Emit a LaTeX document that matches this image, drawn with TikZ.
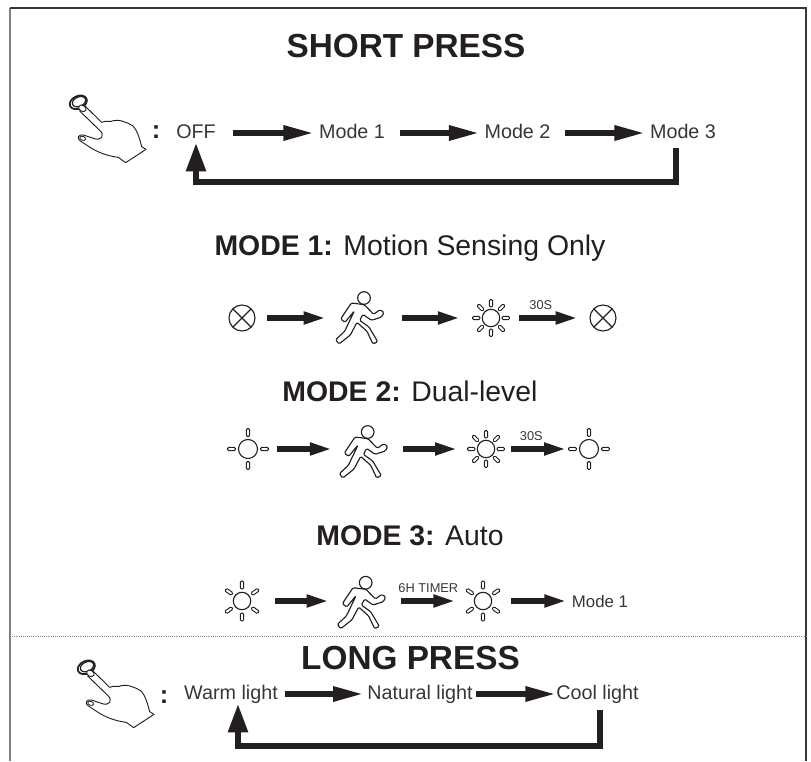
\documentclass[tikz,border=0pt]{standalone}
\usepackage{fontspec}
\setmainfont{Liberation Sans}
\usetikzlibrary{arrows.meta}
\definecolor{ink}{HTML}{231F20}
\tikzset{
	titletext/.style={font=\fontsize{25}{25}\selectfont\bfseries, text=ink},
	headtext/.style={font=\fontsize{21.3}{22}\selectfont, text=ink},
	rowtext/.style={font=\fontsize{14.8}{15}\selectfont, text=ink!90, text height=11pt, text depth=3pt, inner ysep=0pt, inner xsep=3.5pt},
	longtext/.style={rowtext, inner xsep=2.5pt},
	smalltext/.style={font=\fontsize{12.6}{13}\selectfont, text=ink!90, inner xsep=4pt},
	steptext/.style={font=\fontsize{9.6}{10}\selectfont, text=ink!90, inner sep=0pt},
	coltext/.style={font=\fontsize{19}{19}\selectfont\bfseries, text=ink, inner sep=0pt},
	iconbox/.style={inner sep=0pt, minimum height=10pt},
	bigarrow/.style={draw=ink, line width=4.4pt, -{Triangle[length=23pt,width=10.5pt]}},
	fatarrow/.style={draw=ink, line width=3.9pt, -{Triangle[length=16.5pt,width=8.8pt]}},
	looparrow/.style={draw=ink, line width=4.7pt, -{Triangle[length=21.5pt,width=14pt]}},
	lampoff/.pic={
		\draw[ink, line width=.85pt] (0,0) circle (13);
		\draw[ink, line width=.85pt] (-9.2,-9.2)--(9.2,9.2) (-9.2,9.2)--(9.2,-9.2);
	},
	lampdim/.pic={
		\draw[ink, line width=.85pt] (0,0) circle (9.5);
		\foreach \a in {0, 90, 180, 270}{
			\draw[ink, line width=.7pt, rotate=\a, rounded corners=.9pt] (12.5,-1.6) rectangle (20.5,1.6);
		}
	},
	lampfull/.pic={
		\draw[ink, line width=.85pt] (0,0) circle (8.7);
		\foreach \a in {0, 45, ..., 315}{
			\draw[ink, line width=.7pt, rotate=\a, rounded corners=.9pt] (11,-1.6) rectangle (18.5,1.6);
		}
	},
	lampauto/.pic={
		\draw[ink, line width=.85pt] (0,0) circle (8.7);
		\foreach \a in {35, 90, 145, 215, 270, 325}{
			\draw[ink, line width=.7pt, rotate=\a, rounded corners=.9pt] (12,-1.6) rectangle (20,1.6);
		}
	},
	runner/.pic={
		\begin{scope}[scale=1/3, shift={(-463,-115)}]
			\draw[ink, line width=.85pt] (463,55) circle (19);
			\draw[ink, line width=.85pt, rounded corners=1pt, fill=white] (425,70) -- (464,75) -- (492,104) -- (511,90) -- (523,98) -- (516,112) -- (485,122) -- (460,104) -- (450,122) -- (478,142) -- (504,186) -- (490,193) -- (472,155) -- (442,128) -- (422,166) -- (388,193) -- (378,180) -- (405,155) -- (434,94) -- (406,128) -- (393,118) -- cycle;
		\end{scope}
	},
	hand/.pic={
		\begin{scope}[scale=1/3]
			%button
			\draw[ink, line width=1.3pt, rotate around={25:(55,97)}] (55,97) ellipse (27 and 19);
			\draw[ink, line width=.9pt, rotate around={25:(57,95)}] (57,95) ellipse (21 and 14);
			\draw[ink, line width=.7pt, fill=white, rotate around={-30:(67,115)}] (67,115) ellipse (12 and 9);
			%fingers and palm
			\draw[ink, line width=.7pt, line join=round] (75,108) -- (125,157) .. controls (140,150) and (150,158) .. (160,152) .. controls (180,148) and (190,155) .. (205,160) .. controls (225,165) and (235,190) .. (245,230) -- (258,238) -- (197,278) -- (175,262) .. controls (140,258) and (110,245) .. (90,232) -- (60,212) .. controls (50,205) and (55,192) .. (70,195) -- (100,205) .. controls (125,215) and (135,195) .. (120,182) -- (58,122);
			\draw[ink, line width=.6pt, rotate around={-20:(68,205)}] (68,205) ellipse (9 and 6);
		\end{scope}
	}
}
\begin{document}
\begin{tikzpicture}[x=0.75pt, y=-0.75pt]
	\useasboundingbox (0,0) rectangle (811,761);
	%frame
	\draw[gray, line width=1pt] (10,8)--(10,761);
	\draw[ink!90, line width=1pt] (10,8)--(806,8)--(806,761);
	\draw[gray, densely dotted, line width=.6pt] (10,636.5)--(806,636.5);

	%short press
	\node[titletext] (shorttitle) at (406,46) {SHORT PRESS};
	\path (60,70) pic {hand};
	\node[coltext] (shortcol) at (156,132) {:};
	\node[rowtext] (off) at (196,133) {OFF};
	\node[rowtext] (mode1) at (352,133) {Mode 1};
	\node[rowtext] (mode2) at (517.5,133) {Mode 2};
	\node[rowtext] (mode3) at (683,133) {Mode 3};
	\coordinate (back1) at (676,182);
	\draw[bigarrow, shorten <=9pt] (off)--(mode1);
	\draw[bigarrow, shorten <=7.5pt] (mode1)--(mode2);
	\draw[bigarrow, shorten <=7.5pt] (mode2)--(mode3);
	\draw[looparrow, shorten <=4pt] (mode3.south -| back1)--(back1)-|(off.south);

	%mode 1
	\node[headtext] (head1) at (410,248) {\textbf{MODE 1:} Motion Sensing Only};
	\node[iconbox, minimum width=37.5pt] (lamp1) at (242,318) {};
	\node[iconbox, minimum width=57pt] (run1) at (364,318) {};
	\node[iconbox, minimum width=44pt] (lamp2) at (489.5,318) {};
	\node[iconbox, minimum width=37.5pt] (lamp3) at (603,318) {};
	\path (lamp1) pic {lampoff};
	\path (run1) pic {runner};
	\path (491,318) pic {lampfull};
	\path (lamp3) pic {lampoff};
	\draw[fatarrow] (lamp1)--(run1);
	\draw[fatarrow] (run1)--(lamp2);
	\draw[fatarrow] (lamp2)--(lamp3) node[steptext, pos=.37, above=4.5pt] (time1) {30S};

	%mode 2
	\node[headtext] (head2) at (410,391) {\textbf{MODE 2:} Dual-level};
	\node[iconbox, minimum width=43.5pt] (lamp4) at (248,449) {};
	\node[iconbox, minimum width=53pt] (run2) at (367.5,449) {};
	\node[iconbox, minimum width=40pt] (lamp5) at (484,449) {};
	\node[iconbox, minimum width=34pt] (lamp6) at (589,449) {};
	\path (lamp4) pic {lampdim};
	\path (367.7,452) pic {runner};
	\path (486,449) pic {lampfull};
	\path (lamp6) pic {lampdim};
	\draw[fatarrow] (lamp4)--(run2);
	\draw[fatarrow] (run2)--(lamp5);
	\draw[fatarrow] (lamp5)--(lamp6) node[steptext, pos=.37, above=4.5pt] (time2) {30S};

	%mode 3
	\node[headtext] (head3) at (410,536) {\textbf{MODE 3:} Auto};
	\node[iconbox, minimum width=49.5pt] (lamp7) at (242,601) {};
	\node[iconbox, minimum width=54pt] (run3) at (365,601) {};
	\node[iconbox, minimum width=41pt] (lamp8) at (483,601) {};
	\node[smalltext] (backmode) at (600,601) {Mode 1};
	\path (lamp7) pic {lampauto};
	\path (365.7,602.7) pic {runner};
	\path (lamp8) pic {lampauto};
	\draw[fatarrow] (lamp7)--(run3);
	\draw[fatarrow] (run3)--(lamp8) node[steptext, midway, above=4.5pt] (time3) {6H TIMER};
	\draw[fatarrow] (lamp8)--(backmode);

	%long press
	\node[titletext] (longtitle) at (410.5,658) {LONG PRESS};
	\path (68,635) pic {hand};
	\node[coltext] (longcol) at (164,697) {:};
	\node[longtext] (warm) at (231,694) {Warm light};
	\node[longtext] (natural) at (420,694) {Natural light};
	\node[longtext, inner xsep=0pt] (cool) at (597.5,694) {Cool light};
	\coordinate (back2) at (600,746);
	\draw[bigarrow, shorten <=2.5pt] (warm)--(natural);
	\draw[bigarrow] (natural)--(cool);
	\draw[looparrow, shorten <=5pt] (cool.south -| back2)--(back2)-|([xshift=5.25pt]warm.south);
\end{tikzpicture}
\end{document}
